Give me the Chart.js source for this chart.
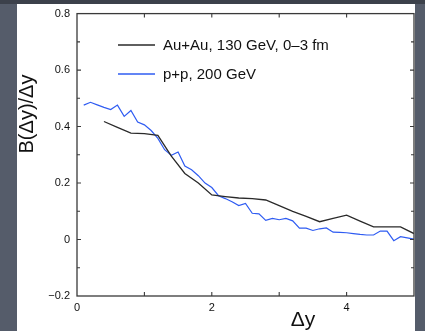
<!DOCTYPE html>
<html>
<head>
<meta charset="utf-8">
<script src="https://cdn.jsdelivr.net/npm/chart.js@4"></script>
<style>
  html, body { margin: 0; padding: 0; background: #4e5563; }
  #wrap { width: 425px; height: 331px; position: relative; }
</style>
</head>
<body>
<div id="wrap"><canvas id="chart"></canvas></div>
<script>
const FONT = '"Liberation Sans", Arial, Helvetica, sans-serif';

// ---------- data ----------
const auLabel = 'Au+Au, 130 GeV, 0\u20133 fm';
const auX = [0.4, 0.6, 0.8, 1.0, 1.2, 1.4, 1.6, 1.8, 2.0, 2.2, 2.4, 2.6, 2.8,
             3.0, 3.2, 3.4, 3.6, 3.8, 4.0, 4.2, 4.4, 4.6, 4.8, 5.0];
const auY = [0.418, 0.397, 0.377, 0.375, 0.369, 0.295, 0.234, 0.200, 0.158, 0.152, 0.147, 0.145, 0.140,
             0.120, 0.100, 0.082, 0.063, 0.075, 0.086, 0.065, 0.045, 0.045, 0.045, 0.021];

const ppLabel = 'p+p, 200 GeV';
const ppX = [0.1, 0.2, 0.3, 0.4, 0.5, 0.6, 0.7, 0.8, 0.9, 1.0,
             1.1, 1.2, 1.3, 1.4, 1.5, 1.6, 1.7, 1.8, 1.9, 2.0,
             2.1, 2.2, 2.3, 2.4, 2.5, 2.6, 2.7, 2.8, 2.9, 3.0,
             3.1, 3.2, 3.3, 3.4, 3.5, 3.6, 3.7, 3.8, 3.9, 4.0,
             4.1, 4.2, 4.3, 4.4, 4.5, 4.6, 4.7, 4.8, 4.9, 5.0];
const ppY = [0.476, 0.486, 0.477, 0.468, 0.460, 0.476, 0.436, 0.457, 0.416, 0.406,
             0.386, 0.358, 0.318, 0.298, 0.310, 0.260, 0.247, 0.226, 0.200, 0.184,
             0.155, 0.145, 0.134, 0.120, 0.128, 0.093, 0.091, 0.068, 0.075, 0.070,
             0.075, 0.066, 0.040, 0.040, 0.032, 0.038, 0.041, 0.026, 0.025, 0.024,
             0.021, 0.018, 0.016, 0.016, 0.030, 0.030, -0.004, 0.010, 0.006, 0.001];

const xMin = 0, xMax = 5, xLabelStep = 2;
const yMin = -0.2, yMax = 0.8, yLabelStep = 0.2;
const xTitle = '\u0394y';
const yTitle = 'B(\u0394y)/\u0394y';

const toPts = (xs, ys) => xs.map((x, i) => ({ x, y: ys[i] }));

// ---------- page background, frame, inward ticks, titles, legend ----------
const decor = {
  id: 'decor',
  beforeDraw(chart) {
    const c = chart.ctx;
    c.save();
    c.fillStyle = '#555c6a';
    c.fillRect(0, 0, chart.width, chart.height);
    c.fillStyle = '#3c414b';
    c.fillRect(0, 0, chart.width, 4);
    c.fillStyle = '#ffffff';
    c.fillRect(17, 4, 398, chart.height - 4);
    c.restore();
  },
  afterDraw(chart) {
    const c = chart.ctx;
    const a = chart.chartArea;
    const xs = chart.scales.x, ys = chart.scales.y;
    c.save();
    c.strokeStyle = '#3a3a3a';
    c.lineWidth = 1.3;
    c.strokeRect(a.left, a.top, a.right - a.left, a.bottom - a.top);

    c.lineWidth = 1.1;
    c.beginPath();
    for (let v = xMin + 1; v < xMax; v++) {
      const px = xs.getPixelForValue(v);
      c.moveTo(px, a.bottom); c.lineTo(px, a.bottom - 4);
      c.moveTo(px, a.top); c.lineTo(px, a.top + 4);
    }
    for (let k = 1; k < 10; k++) {
      const v = yMin + k * 0.1;
      const len = k % 2 === 0 ? 4 : 3;
      const py = ys.getPixelForValue(v);
      c.moveTo(a.left, py); c.lineTo(a.left + len, py);
      c.moveTo(a.right, py); c.lineTo(a.right - len, py);
    }
    c.stroke();

    // axis titles
    c.fillStyle = '#111';
    c.font = '20px ' + FONT;
    c.textAlign = 'center';
    c.textBaseline = 'middle';
    c.save();
    c.translate(27, 114);
    c.rotate(-Math.PI / 2);
    c.fillText(yTitle, 0, 0);
    c.restore();
    c.font = '21px ' + FONT;
    c.textBaseline = 'alphabetic';
    c.fillText(xTitle, 303, 326);

    // legend
    c.font = '15px ' + FONT;
    c.textAlign = 'left';
    c.textBaseline = 'middle';
    chart.data.datasets.forEach((ds, i) => {
      const ly = 45 + i * 29;
      c.strokeStyle = ds.borderColor;
      c.lineWidth = 1.3;
      c.beginPath();
      c.moveTo(118, ly); c.lineTo(155, ly);
      c.stroke();
      c.fillStyle = '#111';
      c.fillText(ds.label, 163, ly + 1);
    });
    c.restore();
  }
};

new Chart(document.getElementById('chart'), {
  type: 'line',
  data: {
    datasets: [
      { label: auLabel, data: toPts(auX, auY), borderColor: '#2a2a2a', borderWidth: 1.3,
        pointRadius: 0, fill: false, tension: 0 },
      { label: ppLabel, data: toPts(ppX, ppY), borderColor: '#2f5cf2', borderWidth: 1.2,
        pointRadius: 0, fill: false, tension: 0 },
    ]
  },
  options: {
    responsive: true, maintainAspectRatio: false, animation: false,
    layout: { padding: { left: 0, top: 13, right: 11, bottom: 0 } },
    plugins: { legend: { display: false }, tooltip: { enabled: false } },
    scales: {
      x: {
        type: 'linear', min: xMin, max: xMax,
        grid: { display: false, drawTicks: false },
        border: { display: false },
        afterFit: (s) => { s.height = 35; },
        ticks: {
          stepSize: xLabelStep, includeBounds: false, padding: 5,
          color: '#111', font: { family: FONT, size: 11 },
          maxRotation: 0, autoSkip: false,
          callback: (v) => (Math.abs(v % xLabelStep) < 1e-9 ? String(v) : ''),
        },
      },
      y: {
        min: yMin, max: yMax,
        grid: { display: false, drawTicks: false },
        border: { display: false },
        afterFit: (s) => { s.width = 77; },
        ticks: {
          stepSize: yLabelStep, padding: 7, autoSkip: false,
          color: '#111', font: { family: FONT, size: 11 },
          callback: (v) => {
            const r = Math.round(v * 10) / 10;
            return r === 0 ? '0' : r.toFixed(1).replace('-', '\u2212');
          },
        },
      },
    },
  },
  plugins: [decor],
});
</script>
</body>
</html>
